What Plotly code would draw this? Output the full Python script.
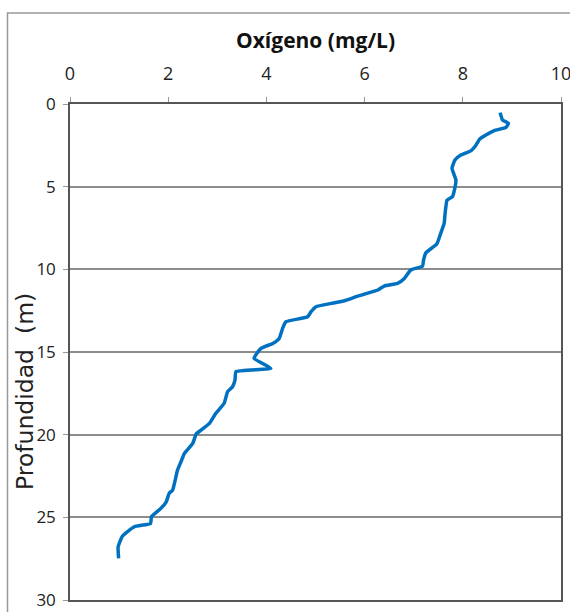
import plotly.graph_objects as go

oxigeno = [8.76, 8.81, 8.93, 8.88, 8.64, 8.47, 8.34, 8.27, 8.17, 7.96, 7.84, 7.78, 7.86, 7.83,
           7.79, 7.68, 7.64, 7.62, 7.55, 7.47, 7.25, 7.20, 7.18, 6.94, 6.81, 6.67, 6.40, 6.27,
           5.86, 5.59, 5.32, 5.01, 4.91, 4.84, 4.40, 4.33, 4.26, 4.13, 3.89, 3.75, 4.09, 3.38,
           3.36, 3.31, 3.21, 3.14, 2.97, 2.84, 2.67, 2.57, 2.50, 2.33, 2.26, 2.19, 2.09, 2.02,
           1.96, 1.85, 1.66, 1.64, 1.31, 1.07, 0.98, 0.99]
profundidad = [0.52, 0.97, 1.17, 1.41, 1.61, 1.88, 2.14, 2.48, 2.82, 3.09, 3.39, 3.89, 4.60, 5.20,
               5.61, 5.81, 6.61, 7.22, 7.82, 8.47, 8.99, 9.44, 9.80, 10.04, 10.55, 10.85, 11.01, 11.25,
               11.62, 11.90, 12.06, 12.26, 12.56, 12.87, 13.17, 13.57, 14.18, 14.48, 14.78, 15.38, 15.99, 16.19,
               16.70, 17.10, 17.40, 18.10, 18.71, 19.32, 19.72, 19.96, 20.53, 21.13, 21.64, 22.14, 23.35, 23.55,
               24.06, 24.46, 24.96, 25.37, 25.57, 26.13, 26.78, 27.48]

x_ticks = [0, 2, 4, 6, 8, 10]
y_ticks = [0, 5, 10, 15, 20, 25, 30]

x_title = "<b>Oxígeno (mg/L)</b>"
y_title = "Profundidad  (m)"

W, H = 570, 612
L, T = 70, 104
R, B = W - 561, H - 600
pw, ph = W - L - R, H - T - B


def px_x(p):
    return (p - L) / pw


def px_y(p):
    return (H - B - p) / ph


fig = go.Figure()
fig.add_trace(go.Scatter(
    x=oxigeno, y=profundidad, mode="lines",
    line=dict(color="#0070C0", width=3.5, shape="spline", smoothing=0.4),
    showlegend=False, hoverinfo="skip",
))

fig.update_layout(
    width=W, height=H,
    margin=dict(l=L, r=R, t=T, b=B),
    paper_bgcolor="white", plot_bgcolor="white",
    xaxis=dict(
        side="top", range=[0, 10], tickvals=x_ticks, showgrid=False, automargin=False,
        ticks="outside", ticklen=5, tickcolor="#999", ticklabelstandoff=10,
        ticklabeloverflow="allow",
        tickfont=dict(family="Open Sans, sans-serif", size=18, color="#222"),
        showline=True, linecolor="#555", linewidth=1.5, mirror=True, zeroline=False,
    ),
    yaxis=dict(
        range=[30, 0], tickvals=y_ticks, showgrid=True, gridcolor="#8c8c8c", gridwidth=1.5,
        automargin=False,
        ticks="outside", ticklen=5, tickcolor="#999", ticklabelstandoff=4,
        ticklabeloverflow="allow",
        tickfont=dict(family="Open Sans, sans-serif", size=17, color="#222"),
        showline=True, linecolor="#555", linewidth=1.5, mirror=True, zeroline=False,
    ),
    annotations=[
        dict(text=x_title, xref="paper", yref="paper", x=px_x(315), y=px_y(40),
             showarrow=False, xanchor="center", yanchor="middle",
             font=dict(family="Open Sans, sans-serif", size=21, color="#111")),
        dict(text=y_title, xref="paper", yref="paper", x=px_x(25), y=px_y(392),
             showarrow=False, xanchor="center", yanchor="middle", textangle=-90,
             font=dict(family="DejaVu Sans, sans-serif", size=23.5, color="#222")),
    ],
    shapes=[dict(type="rect", xref="paper", yref="paper",
                 x0=px_x(7.5), x1=px_x(575),
                 y0=px_y(616), y1=px_y(13),
                 line=dict(color="#999", width=1.5), layer="below")],
)

fig.write_html("out.html",
               config={"displayModeBar": False},
               post_script="document.body.style.margin='0';document.body.style.overflow='hidden';")
